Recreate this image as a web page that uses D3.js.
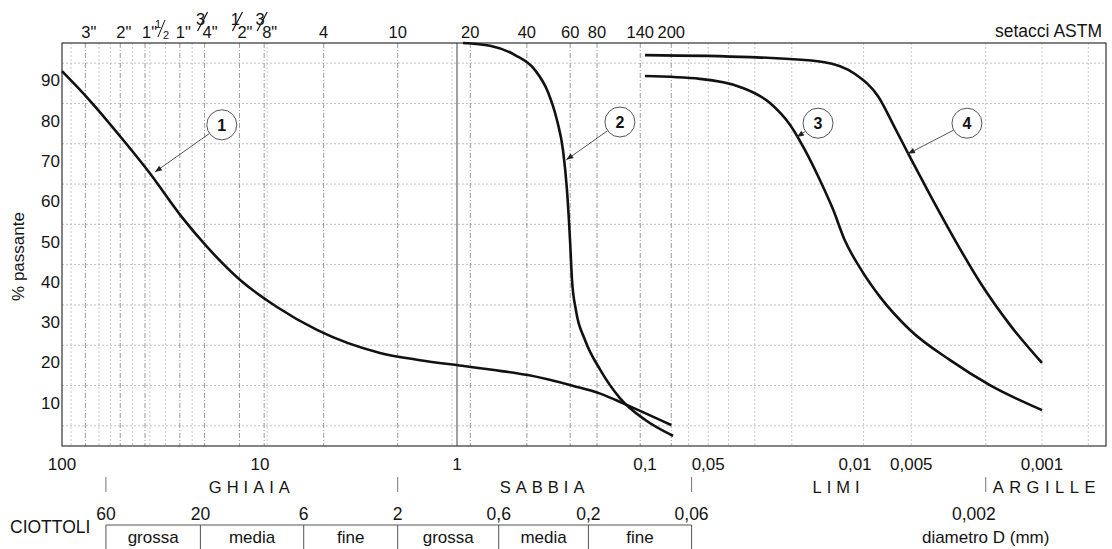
<!DOCTYPE html>
<html><head><meta charset="utf-8">
<script src="https://cdn.jsdelivr.net/npm/d3@7"></script>
<style>
body{margin:0;background:#fff}
svg{display:block}
text{font-family:"Liberation Sans",Arial,Helvetica,sans-serif;fill:#141414}
</style>
</head><body>
<svg id="chart" width="1112" height="549"></svg>
<script>
// ---------------- DATA ----------------
// percent passing ticks / gridlines
const yTickValues = [10, 20, 30, 40, 50, 60, 70, 80, 90];
const yGridValues = [5, 15, 25, 35, 45, 55, 65, 75, 85, 95];

// bottom diameter ticks (mm)
const xTickValues = [100, 10, 1, 0.1, 0.05, 0.01, 0.005, 0.001];
const xTickLabels = ["100", "10", "1", "0,1", "0,05", "0,01", "0,005", "0,001"];

// ASTM sieves: opening (mm) and label
const sieveSizes  = [76.2, 50.8, 38.1, 25.4, 19.05, 12.7, 9.525, 4.75, 2.0, 0.85, 0.425, 0.25, 0.18, 0.106, 0.075];
const sieveLabels = ['3"', '2"', '1"½', '1"', '3/4"', '1/2"', '3/8"', '4', '10', '20', '40', '60', '80', '140', '200'];

// extra faint grid lines (mm)
const minorGrid = [90, 65, 57, 44, 36, 30, 22, 9.2, 1.06, 0.062, 0.05, 0.04, 0.03, 0.02, 0.009, 0.005, 0.002, 0.001, 0.00057];
const majorGrid = [1];

// grain size curves: diameter (mm) and % passing
const curve1D = [100, 72, 49.2, 36, 24.8, 18.5, 12.6, 8.2, 5.14, 2.46, 1.54, 0.94, 0.65, 0.42, 0.24, 0.173, 0.128, 0.075];
const curve1P = [93, 85.6, 76, 67.7, 56.8, 49.4, 41.2, 34.5, 28.8, 23.1, 21.3, 19.9, 18.9, 17.6, 14.9, 13.0, 10.4, 5.2];

const curve2D = [0.929, 0.667, 0.491, 0.385, 0.328, 0.294, 0.273, 0.26, 0.2505, 0.2445, 0.233, 0.2085, 0.173, 0.136, 0.1, 0.0735];
const curve2P = [100, 99.3, 97, 93.3, 87.8, 80.9, 73.4, 63.5, 51.1, 41.2, 33.7, 26.3, 18.9, 11.9, 6.5, 2.5];

const curve3D = [0.1, 0.0547, 0.0353, 0.0254, 0.0204, 0.0173, 0.0147, 0.0127, 0.0112, 0.0094, 0.00735, 0.00508, 0.0031, 0.0019, 0.001];
const curve3P = [91.8, 91.1, 89.1, 85.1, 79.7, 73.4, 66, 58.6, 51.1, 44.2, 37, 28.8, 21.3, 15.1, 8.9];

const curve4D = [0.1, 0.0316, 0.0142, 0.01, 0.00753, 0.00611, 0.00508, 0.00397, 0.00292, 0.00215, 0.00148, 0.001];
const curve4P = [97, 96.5, 95.3, 92.3, 86.8, 78.9, 71.7, 62.3, 51.1, 40.7, 30.0, 20.6];

// annotation labels: circle position and arrow target (diameter, % passing)
const annoNames = ["1", "2", "3", "4"];
const annoCircleD = [15.6, 0.136, 0.015, 0.00252];
const annoCircleP = [79.7, 80.4, 80.1, 80.1];
const annoTipD = [33.9, 0.262, 0.0189, 0.00521];
const annoTipP = [68, 71, 76.7, 72.5];

// classification
const mainClassNames = ["GHIAIA", "SABBIA", "LIMI", "ARGILLE"];
const mainClassFrom  = [60, 2, 0.06, 0.002];
const mainClassTo    = [2, 0.06, 0.002, null];
const subBounds      = [60, 20, 6, 2, 0.6, 0.2, 0.06];
const subBoundLabels = ["60", "20", "6", "2", "0,6", "0,2", "0,06"];
const subNames       = ["grossa", "media", "fine", "grossa", "media", "fine"];

// ---------------- CHART ----------------
const svg = d3.select("#chart");
const x = d3.scaleLog()
  .domain([100, 10, 1, 0.1, 0.01, 0.001, 0.00046])
  .range([62, 260, 457, 645, 855, 1042, 1106]);
const y = d3.scaleLinear().domain([0, 100]).range([446, 43]);
const [x0, x1] = [x(100), x(0.00046)];
const [yb, yt] = [y(0), y(100)];
const FS = 17;

const grid = svg.append("g");
grid.selectAll("line.hg").data(yGridValues).join("line")
  .attr("x1", x0).attr("x2", x1).attr("y1", d => y(d)).attr("y2", d => y(d))
  .attr("stroke", "#b0b0b0").attr("stroke-width", 0.8).attr("stroke-dasharray", "2,2");
grid.selectAll("line.mg").data(minorGrid).join("line")
  .attr("x1", d => x(d)).attr("x2", d => x(d)).attr("y1", yt).attr("y2", yb)
  .attr("stroke", "#bababa").attr("stroke-width", 0.8).attr("stroke-dasharray", "2,2");
grid.selectAll("line.sg").data(sieveSizes).join("line")
  .attr("x1", d => x(d)).attr("x2", d => x(d)).attr("y1", yt).attr("y2", yb)
  .attr("stroke", "#8f8f8f").attr("stroke-width", 0.9).attr("stroke-dasharray", "5,2,1,2");
grid.selectAll("line.maj").data(majorGrid).join("line")
  .attr("x1", d => x(d)).attr("x2", d => x(d)).attr("y1", yt).attr("y2", yb)
  .attr("stroke", "#555").attr("stroke-width", 1.1);

svg.append("rect").attr("x", x0).attr("y", yt).attr("width", x1 - x0).attr("height", yb - yt)
  .attr("fill", "none").attr("stroke", "#333").attr("stroke-width", 1.2);

svg.selectAll("text.yt").data(yTickValues).join("text")
  .attr("x", x0 - 2).attr("y", d => y(d) + 3).attr("text-anchor", "end")
  .attr("font-size", FS).text(d => d);
svg.append("text").attr("transform", `translate(24,${(yt + yb) / 2 + 12}) rotate(-90)`)
  .attr("text-anchor", "middle").attr("font-size", FS).text("% passante");

svg.selectAll("text.xt").data(xTickValues).join("text")
  .attr("x", d => x(d)).attr("y", 470).attr("text-anchor", "middle")
  .attr("font-size", FS).text((d, i) => xTickLabels[i]);

const topG = svg.append("g");
const TS = 16.5;
sieveSizes.forEach((s, i) => {
  const sx = x(s), lab = sieveLabels[i];
  const frac = lab.match(/^(\d)\/(\d)"$/);
  if (frac) {
    topG.append("text").attr("x", sx - 4).attr("y", 25).attr("text-anchor", "middle").attr("font-size", TS).text(frac[1]);
    topG.append("line").attr("x1", sx - 7).attr("y1", 31).attr("x2", sx + 3).attr("y2", 12).attr("stroke", "#141414").attr("stroke-width", 1.2);
    topG.append("text").attr("x", sx - 2).attr("y", 38).attr("font-size", TS).text(frac[2] + '"');
  } else if (lab === '1"½') {
    topG.append("text").attr("x", sx - 3).attr("y", 38).attr("font-size", TS).text('1"');
    topG.append("text").attr("x", sx + 13).attr("y", 28).attr("text-anchor", "middle").attr("font-size", 11).text("1");
    topG.append("line").attr("x1", sx + 13).attr("y1", 37).attr("x2", sx + 20).attr("y2", 20).attr("stroke", "#141414").attr("stroke-width", 1);
    topG.append("text").attr("x", sx + 21).attr("y", 39).attr("text-anchor", "middle").attr("font-size", 11).text("2");
  } else if (lab.endsWith('"')) {
    topG.append("text").attr("x", sx - 4).attr("y", 38).attr("font-size", TS).text(lab);
  } else {
    topG.append("text").attr("x", sx).attr("y", 38).attr("text-anchor", "middle").attr("font-size", TS).text(lab);
  }
});
svg.append("text").attr("x", x1 - 4).attr("y", 37).attr("text-anchor", "end").attr("font-size", 17.5).text("setacci ASTM");

const line = d3.line().x(d => x(d[0])).y(d => y(d[1])).curve(d3.curveMonotoneX);
const curves = [[curve1D, curve1P], [curve2D, curve2P], [curve3D, curve3P], [curve4D, curve4P]];
svg.selectAll("path.curve").data(curves).join("path")
  .attr("d", c => line(c[0].map((d, i) => [d, c[1][i]])))
  .attr("fill", "none").attr("stroke", "#111").attr("stroke-width", 2.6);

svg.append("defs").append("marker").attr("id", "ah").attr("viewBox", "0 0 10 10")
  .attr("refX", 10).attr("refY", 5).attr("markerWidth", 9).attr("markerHeight", 7)
  .attr("orient", "auto").attr("markerUnits", "userSpaceOnUse")
  .append("path").attr("d", "M0,1 L10,5 L0,9 Z").attr("fill", "#222");
const R = 15;
annoNames.forEach((n, i) => {
  const cx = x(annoCircleD[i]), cy = y(annoCircleP[i]);
  const tx = x(annoTipD[i]), ty = y(annoTipP[i]);
  const a = Math.atan2(ty - cy, tx - cx);
  svg.append("line").attr("x1", cx + R * Math.cos(a)).attr("y1", cy + R * Math.sin(a))
    .attr("x2", tx).attr("y2", ty).attr("stroke", "#555").attr("stroke-width", 1)
    .attr("marker-end", "url(#ah)");
  svg.append("circle").attr("cx", cx).attr("cy", cy).attr("r", R)
    .attr("fill", "#fff").attr("stroke", "#555").attr("stroke-width", 1);
  svg.append("text").attr("x", cx).attr("y", cy + 6).attr("text-anchor", "middle")
    .attr("font-size", 16).attr("font-weight", "bold").text(n);
});

const CS = 17;
const cls = svg.append("g");
cls.selectAll("line.ct").data(mainClassFrom).join("line")
  .attr("x1", d => x(d)).attr("x2", d => x(d)).attr("y1", 477).attr("y2", 492)
  .attr("stroke", "#777").attr("stroke-width", 1);
mainClassNames.forEach((n, i) => {
  const a = x(mainClassFrom[i]);
  const t = cls.append("text").attr("y", 493).attr("font-size", 16.5)
    .attr("letter-spacing", n === "ARGILLE" ? 5.5 : 5).text(n);
  if (mainClassTo[i] !== null) {
    t.attr("x", (a + x(mainClassTo[i])) / 2).attr("text-anchor", "middle");
  } else {
    t.attr("x", a + 7);
  }
});
cls.append("line").attr("x1", x(subBounds[0])).attr("x2", x(subBounds[subBounds.length - 1]))
  .attr("y1", 525).attr("y2", 525).attr("stroke", "#555").attr("stroke-width", 1);
cls.selectAll("line.sb").data(subBounds).join("line")
  .attr("x1", d => x(d)).attr("x2", d => x(d)).attr("y1", 525).attr("y2", 549)
  .attr("stroke", "#555").attr("stroke-width", 1);
cls.selectAll("text.sbl").data(subBounds).join("text")
  .attr("x", d => x(d)).attr("y", 520).attr("text-anchor", "middle").attr("font-size", 17.5)
  .text((d, i) => subBoundLabels[i]);
cls.selectAll("text.sn").data(subNames).join("text")
  .attr("x", (d, i) => (x(subBounds[i]) + x(subBounds[i + 1])) / 2).attr("y", 543)
  .attr("text-anchor", "middle").attr("font-size", CS).text(d => d);
cls.append("text").attr("x", 10).attr("y", 533).attr("font-size", 17.5).text("CIOTTOLI");
cls.append("text").attr("x", x(0.002)).attr("y", 520).attr("text-anchor", "end").attr("dx", 10).attr("font-size", 17.5).text("0,002");
cls.append("text").attr("x", x(0.002)).attr("y", 543).attr("text-anchor", "middle").attr("font-size", CS).text("diametro D (mm)");
</script>
</body></html>
